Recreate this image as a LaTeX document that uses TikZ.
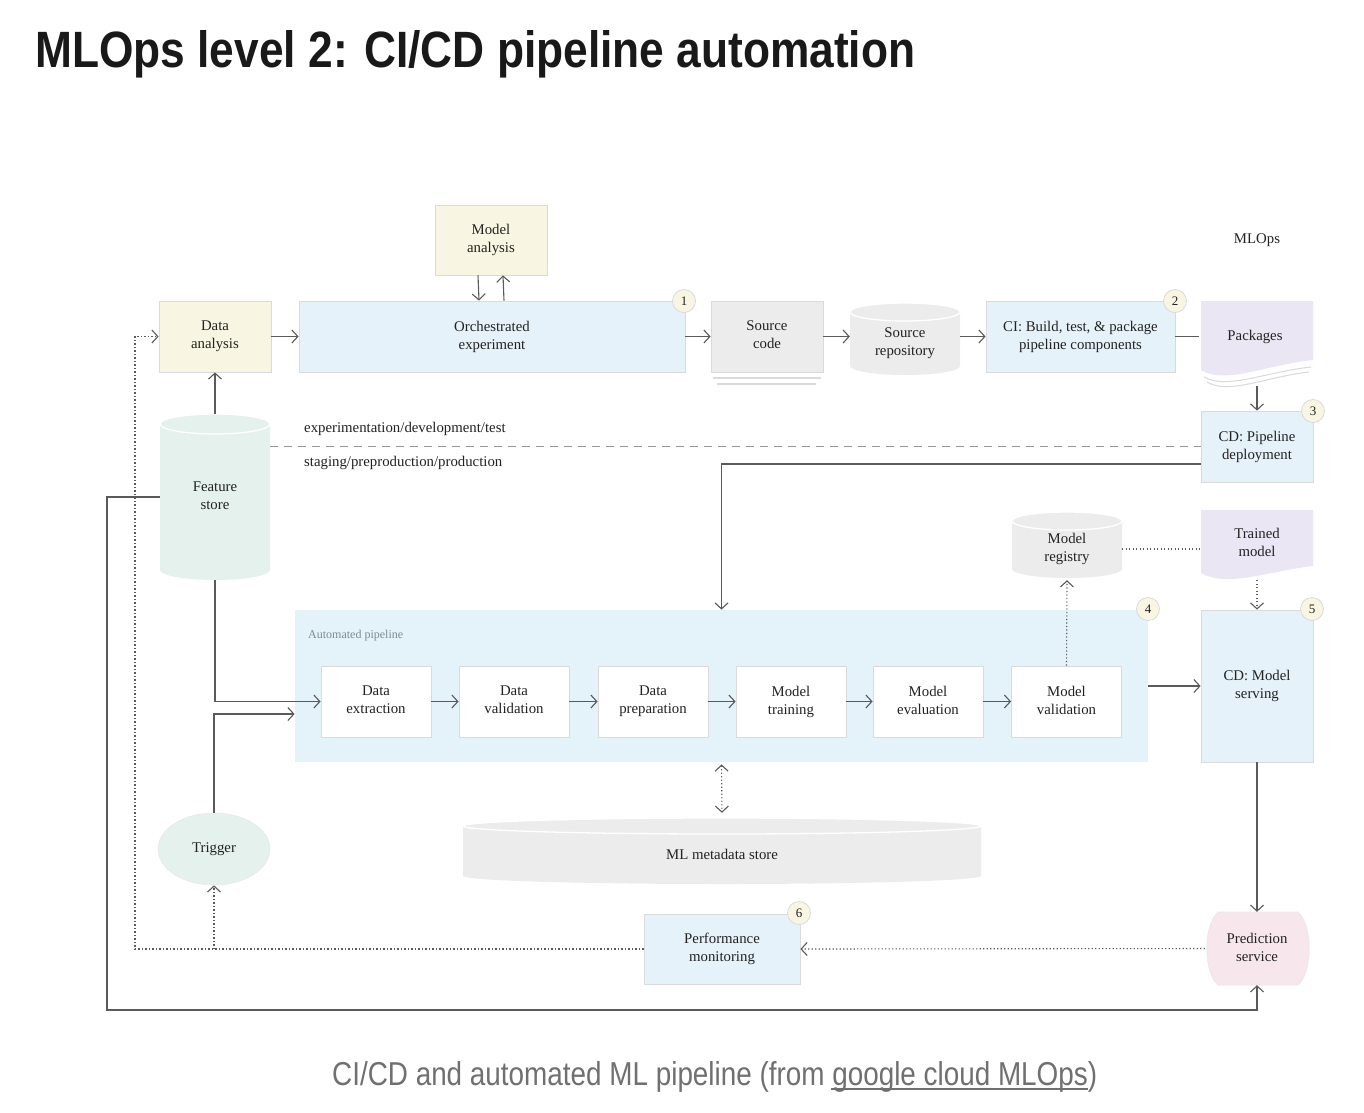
\documentclass[tikz,border=0pt]{standalone}
\usepackage{fontspec}
\setmainfont{Liberation Serif}
\newfontfamily\titlefont{Liberation Sans}
\usetikzlibrary{arrows.meta,calc,shapes.geometric}
\definecolor{cream}{HTML}{F8F6E2}
\definecolor{lblue}{HTML}{E5F2FA}
\definecolor{autoblue}{HTML}{E4F2F9}
\definecolor{lgray}{HTML}{ECECEC}
\definecolor{mint}{HTML}{E5F1ED}
\definecolor{lav}{HTML}{EAE6F3}
\definecolor{pinkf}{HTML}{F7E6EC}
\definecolor{bord}{HTML}{DADADA}
\definecolor{lin}{HTML}{5A5A5A}
\definecolor{txt}{HTML}{222222}
\definecolor{capgray}{HTML}{707070}
\definecolor{autotxt}{HTML}{7D8B93}
\newcommand{\dfont}{\fontsize{14.8}{18}\selectfont}
\newcommand{\topstrut}{\rule{0pt}{13pt}}
\newcommand{\botstrut}{\rule[-3pt]{0pt}{3pt}}
\newcommand{\mycyl}[6]{%
  \pgfmathsetmacro{\cylcx}{(#2+#4)/2}%
  \pgfmathsetmacro{\cylrx}{(#4-#2)/2}%
  \fill[#1] (#2,-#3-#6) -- (#2,-#5+#6) arc[start angle=180,end angle=360,x radius=\cylrx pt,y radius=#6 pt] -- (#4,-#3-#6) arc[start angle=0,end angle=180,x radius=\cylrx pt,y radius=#6 pt] -- cycle;
  \draw[white,line width=1.3pt] (\cylcx,-#3-#6) ellipse[x radius=\cylrx pt,y radius=#6 pt];
}
\begin{document}
\begin{tikzpicture}[x=1pt,y=1pt,
  box/.style={draw=bord, line width=0.8pt, align=center, font=\dfont, text=txt, inner sep=2pt, execute at begin node=\topstrut, execute at end node=\botstrut},
  ghost/.style={align=center, font=\dfont, text=txt, inner sep=0pt, execute at begin node=\topstrut, execute at end node=\botstrut},
  lbl/.style={font=\dfont, text=txt, inner sep=0pt},
  arr/.style={draw=lin, line width=1.1pt, -{Straight Barb[length=6pt,width=13pt]}},
  ln/.style={draw=lin, line width=1.1pt},
  dotln/.style={draw=lin, line width=1.1pt, dash pattern=on 1.2pt off 2.3pt},
  dotarr/.style={dotln, -{Straight Barb[length=6pt,width=13pt]}},
  badge/.style={circle, draw=bord, fill=cream, line width=0.8pt, minimum size=23pt, inner sep=0pt, font=\fontsize{13}{13}\selectfont, text=txt}
]
\useasboundingbox (0,0) rectangle (1364,-1112);
\fill[white] (0,0) rectangle (1364,-1112);

% title and caption
\node[anchor=base west, inner sep=0pt, text=black!90] (title) at (35,-67)
  {\resizebox{880pt}{37pt}{\titlefont\bfseries MLOps level 2: CI/CD pipeline automation}};
\node[anchor=base west, inner sep=0pt, text=capgray] (cap) at (332,-1085)
  {\resizebox{765pt}{24pt}{\titlefont CI/CD and automated ML pipeline (from google cloud MLOps)}};
\coordinate (ula) at (831,-1089);
\coordinate (ulb) at (1088,-1089);
\draw[capgray, line width=1.2pt] (ula) -- (ulb);

\node[lbl] (mlops) at (1257,-240) {MLOps};

% cylinders
\mycyl{mint}{160}{414}{270}{580}{10}
\mycyl{lgray}{850}{303}{960}{375}{9}
\mycyl{lgray}{1012}{512}{1122}{578}{9}
\mycyl{lgray}{463}{818}{981}{884}{8}

% document shapes
\fill[lav] (1201,-301) -- (1313,-301) -- (1313,-360) .. controls (1265,-365) and (1225,-385) .. (1201,-370) -- cycle;
\draw[bord, line width=1pt] (1311,-367) .. controls (1265,-372) and (1227,-390) .. (1204,-377);
\draw[bord, line width=1pt] (1309,-372) .. controls (1265,-377) and (1229,-395) .. (1207,-382);
\fill[lav] (1201,-510) -- (1313,-510) -- (1313,-566) .. controls (1268,-571) and (1228,-588) .. (1201,-573) -- cycle;

% prediction service shape
\filldraw[fill=pinkf, draw=bord!60, line width=0.6pt] (1218,-912) -- (1298,-912) .. controls (1313,-925) and (1313,-972) .. (1298,-985) -- (1218,-985) .. controls (1203,-972) and (1203,-925) .. (1218,-912) -- cycle;

% boxes
\node[box, fill=cream, minimum width=112pt, minimum height=70pt] (manal) at (491,-240) {Model\\analysis};
\node[box, fill=cream, minimum width=112pt, minimum height=71pt] (dana) at (215,-336.5) {Data\\analysis};
\node[box, fill=lblue, minimum width=386pt, minimum height=71pt] (orch) at (492,-336.5) {Orchestrated\\experiment};
\node[box, fill=lgray, minimum width=112pt, minimum height=71pt] (srcc) at (767,-336.5) {Source\\code};
\node[ghost, minimum width=110pt, minimum height=64pt] (srep) at (905,-343) {Source\\repository};
\node[box, fill=lblue, minimum width=189pt, minimum height=71pt] (ci) at (1080.5,-336.5) {CI: Build, test, \& package\\pipeline components};
\node[ghost, minimum width=112pt, minimum height=70pt] (pkgs) at (1255,-336) {Packages};
\node[box, fill=lblue, minimum width=112pt, minimum height=71pt] (cdp) at (1257,-446.5) {CD: Pipeline\\deployment};
\node[ghost, minimum width=110pt, minimum height=166pt] (fs) at (215,-497) {Feature\\store};
\node[ghost, minimum width=110pt, minimum height=62pt] (reg) at (1067,-549) {Model\\registry};
\node[ghost, minimum width=112pt, minimum height=60pt] (tm) at (1257,-544) {Trained\\model};

\node[box, draw=none, fill=autoblue, minimum width=853pt, minimum height=152pt, execute at begin node={}, execute at end node={}] (auto) at (721.5,-686) {};
\node[anchor=west, inner sep=0pt, font=\fontsize{12}{12}\selectfont, text=autotxt] (autolbl) at (308,-636) {Automated pipeline};
\node[box, fill=white, minimum width=110pt, minimum height=71pt] (dext) at (376,-701.5) {Data\\extraction};
\node[box, fill=white, minimum width=110pt, minimum height=71pt] (dval) at (514,-701.5) {Data\\validation};
\node[box, fill=white, minimum width=110pt, minimum height=71pt] (dprep) at (653,-701.5) {Data\\preparation};
\node[box, fill=white, minimum width=110pt, minimum height=71pt] (mtrain) at (791,-701.5) {Model\\training};
\node[box, fill=white, minimum width=110pt, minimum height=71pt] (meval) at (928,-701.5) {Model\\evaluation};
\node[box, fill=white, minimum width=110pt, minimum height=71pt] (mval) at (1066.5,-701.5) {Model\\validation};

\node[box, fill=lblue, minimum width=112pt, minimum height=152pt] (cdm) at (1257,-686) {CD: Model\\serving};
\node[ellipse, fill=mint, draw=bord!60, line width=0.6pt, minimum width=112pt, minimum height=72pt, font=\dfont, text=txt] (trig) at (214,-849) {Trigger};
\node[ghost, minimum width=518pt, minimum height=72pt] (meta) at (722,-854) {ML metadata store};
\node[box, fill=lblue, minimum width=156pt, minimum height=70pt] (perf) at (722,-949) {Performance\\monitoring};
\node[ghost, minimum width=104pt, minimum height=73pt] (pred) at (1257,-948.5) {Prediction\\service};

% source code underlines
\draw[bord, line width=1.4pt] (713,-378) -- (821,-378);
\draw[bord, line width=1.4pt] (717,-384) -- (816,-384);

% badges
\node[badge] (b1) at (684,-301) {1};
\node[badge] (b2) at (1175,-301) {2};
\node[badge] (b3) at (1313,-411) {3};
\node[badge] (b4) at (1148,-609) {4};
\node[badge] (b5) at (1312,-609) {5};
\node[badge] (b6) at (799,-913) {6};

% separator
\draw[draw=black!40, line width=1pt, dash pattern=on 8pt off 6pt] (fs.north east |- cdp.west) -- (cdp.west);
\node[lbl, anchor=west] (exptxt) at (304,-429) {experimentation/development/test};
\node[lbl, anchor=west] (stgtxt) at (304,-463) {staging/preproduction/production};

% connectors
\draw[arr] (fs.north) -- (dana.south);
\draw[arr] (dana.east) -- (orch.west);
\draw[arr] ([xshift=-13pt]manal.south) -- ([xshift=-13pt]orch.north);
\draw[arr] ([xshift=12pt]orch.north) -- ([xshift=12pt]manal.south);
\draw[arr] (orch.east) -- (srcc.west);
\draw[arr] (srcc.east) -- (srcc.east -| srep.west);
\draw[arr] (srcc.east -| srep.east) -- (ci.west);
\draw[ln] (ci.east) -- (ci.east -| pkgs.west);
\coordinate (pkb) at (1257,-386);
\draw[arr] (pkb) -- (cdp.north);
\draw[arr] ([yshift=-17.5pt]cdp.west) -| (auto.north);
\draw[arr] (fs.south) |- (dext.west);
\draw[arr] (trig.north) |- ([yshift=-28pt]auto.west);
\draw[arr] (dext) -- (dval);
\draw[arr] (dval) -- (dprep);
\draw[arr] (dprep) -- (mtrain);
\draw[arr] (mtrain) -- (meval);
\draw[arr] (meval) -- (mval);
\draw[dotarr] (mval.north) -- (reg.south);
\draw[dotln] (reg.east) -- (reg.east -| tm.west);
\coordinate (tmb) at (1257,-580);
\draw[dotarr] (tmb) -- (cdm.north);
\draw[arr] (auto.east) -- (cdm.west);
\draw[arr] (cdm.south) -- (pred.north);
\draw[dotarr] (pred.west) -- (perf.east);
\draw[dotln, {Straight Barb[length=6pt,width=13pt]}-{Straight Barb[length=6pt,width=13pt]}, shorten <=2pt, shorten >=5pt] (auto.south) -- (meta.north);
\coordinate (lp) at (135,-949);
\draw[dotarr] (perf.west) -- (lp) |- (dana.west);
\coordinate (tp) at (214,-949);
\draw[dotarr] (tp) -- (trig.south);
\coordinate (c1) at (107,-1010);
\draw[arr] (fs.west) -| (c1) -| (pred.south);
\end{tikzpicture}
\end{document}
